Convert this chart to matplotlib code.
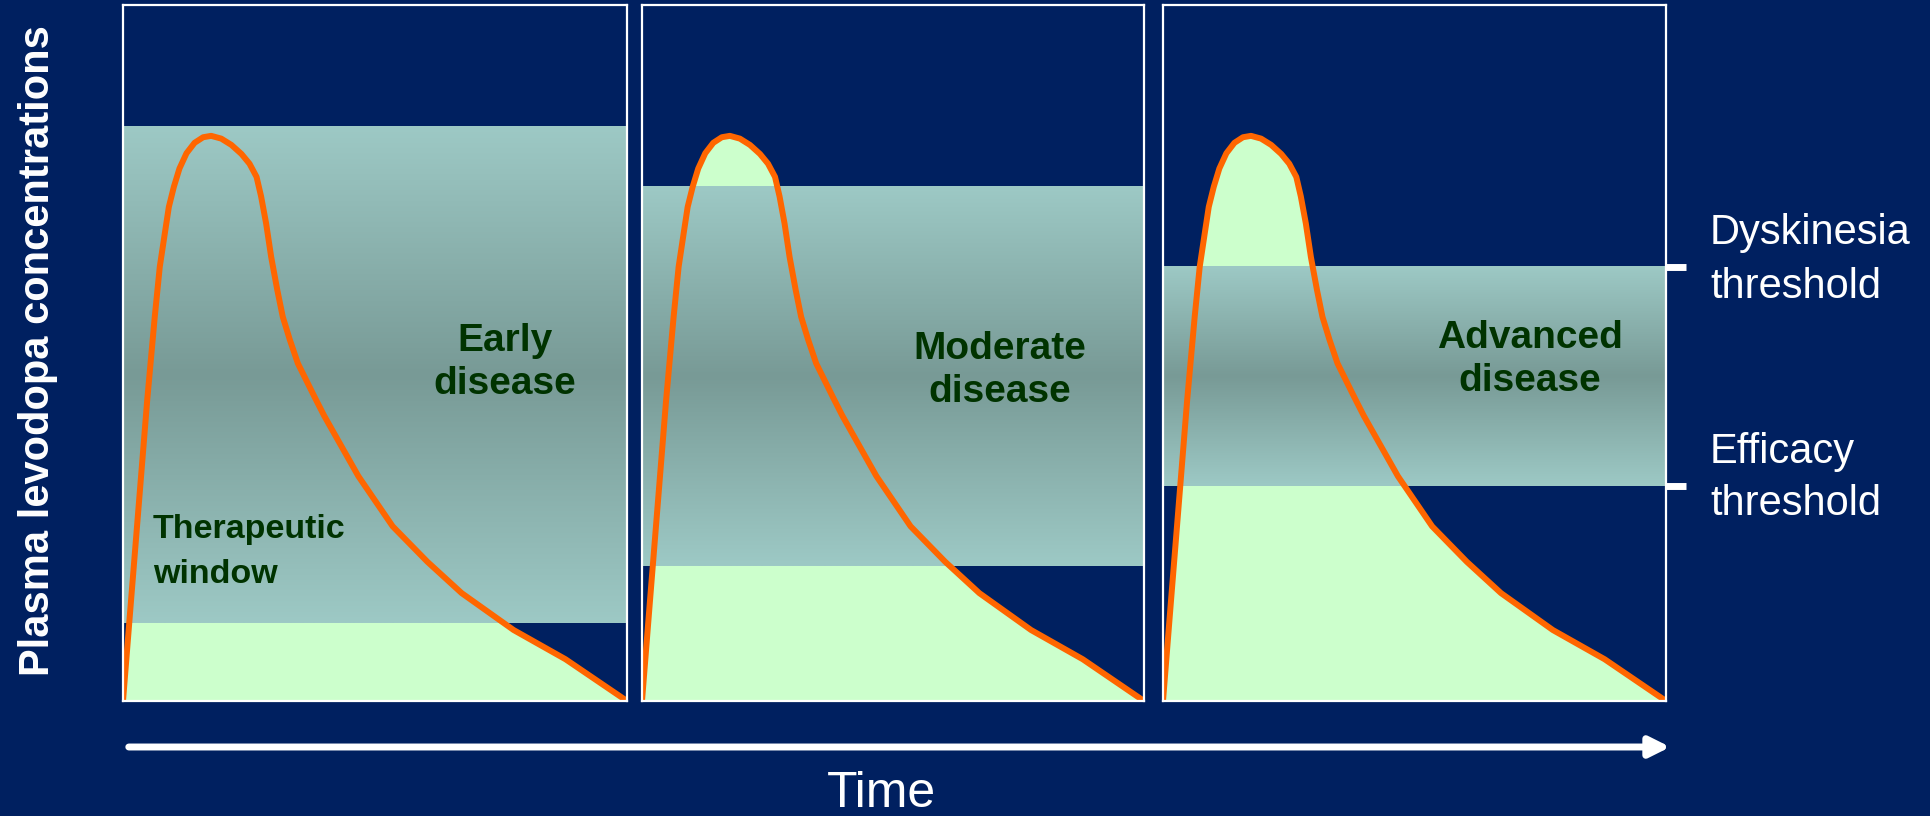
import numpy as np
import matplotlib
matplotlib.use("Agg")
import matplotlib.pyplot as plt
from matplotlib.patches import FancyArrowPatch
from matplotlib.transforms import blended_transform_factory

# ── 数据 ──
stages = ["Early\ndisease", "Moderate\ndisease", "Advanced\ndisease"]
# 阈值（占纵轴的百分比）
efficacy_threshold = [11.2, 19.4, 30.9]
dyskinesia_threshold = [82.5, 73.9, 62.4]
# 单次给药后的血药浓度曲线（三个阶段相同）
time_frac = [0.0, 0.016, 0.048, 0.063, 0.073, 0.083, 0.091, 0.101, 0.112, 0.126,
             0.142, 0.159, 0.175, 0.195, 0.215, 0.235, 0.251, 0.265, 0.274, 0.284,
             0.294, 0.306, 0.317, 0.331, 0.347, 0.380, 0.399, 0.467, 0.535, 0.604,
             0.672, 0.775, 0.878, 1.0]
conc = [0.0, 14.5, 43.2, 55.2, 62.4, 67.2, 71.0, 73.9, 76.5, 78.7,
        80.2, 81.0, 81.2, 80.8, 79.9, 78.6, 77.2, 75.3, 72.5, 68.6,
        63.8, 59.1, 55.2, 51.9, 48.5, 43.7, 41.0, 32.3, 25.1, 20.0,
        15.5, 10.2, 6.0, 0.0]

# ── 样式 ──
NAVY = "#002060"
GREEN_FILL = "#CCFFCC"
ORANGE = "#FF6600"
TEXT_GREEN = "#003300"
BAND_LIGHT = np.array([157, 201, 197]) / 255
BAND_DARK = np.array([120, 154, 150]) / 255

plt.rcParams["font.family"] = ["Liberation Sans", "DejaVu Sans"]

# ── 版面（像素） ──
W, H = 1931, 816
panel_left = [123, 642, 1163]
panel_width = [504, 502, 503]
panel_top, panel_bottom = 5, 701
stage_label_pos = [(505, 323), (1000, 331), (1530, 320)]


def fx(x):
    return x / W


def fy(y):
    return 1 - y / H


fig = plt.figure(figsize=(W / 100, H / 100), dpi=100, facecolor=NAVY)

# 渐变色带：上下浅、中间深
u = np.linspace(0, 1, 256)
t = np.abs(2 * u - 1)[:, None]
grad = (BAND_DARK + (BAND_LIGHT - BAND_DARK) * t)[:, None, :]

axes = []
for i in range(3):
    ax = fig.add_axes([fx(panel_left[i]), fy(panel_bottom), panel_width[i] / W,
                       (panel_bottom - panel_top) / H])
    ax.set_facecolor(NAVY)
    ax.fill_between(time_frac, 0, conc, color=GREEN_FILL, lw=0, zorder=1)
    ax.imshow(grad, extent=[0, 1, efficacy_threshold[i], dyskinesia_threshold[i]],
              origin="lower", aspect="auto", interpolation="bilinear", zorder=2)
    ax.plot(time_frac, conc, color=ORANGE, lw=4.3, solid_capstyle="round",
            solid_joinstyle="round", zorder=3)
    ax.set_xlim(0, 1)
    ax.set_ylim(0, 100)
    ax.set_xticks([])
    ax.set_yticks([])
    for s in ax.spines.values():
        s.set_color("white")
        s.set_linewidth(1.6)
        s.set_zorder(5)
    axes.append(ax)

    lx, ly = stage_label_pos[i]
    fig.text(fx(lx), fy(ly), stages[i], ha="center", va="top", fontsize=28,
             fontweight="bold", color=TEXT_GREEN, linespacing=1.25, zorder=6)

fig.text(fx(153), fy(514), "Therapeutic\nwindow", ha="left", va="top", fontsize=24.5,
         fontweight="bold", color=TEXT_GREEN, linespacing=1.6, zorder=6)

# ── 阈值刻度 ──
ax3 = axes[2]
trans = blended_transform_factory(ax3.transAxes, ax3.transData)
for yv in (dyskinesia_threshold[2], efficacy_threshold[2]):
    ax3.plot([1.0, 1.04], [yv, yv], transform=trans, clip_on=False,
             color="white", lw=5, solid_capstyle="butt", zorder=6)

fig.text(fx(1710), fy(213), "Dyskinesia\nthreshold", ha="left", va="top",
         fontsize=30, color="white", linespacing=1.44)
fig.text(fx(1710), fy(432), "Efficacy\nthreshold", ha="left", va="top",
         fontsize=30, color="white", linespacing=1.38)

# ── 坐标轴标签与时间箭头 ──
fig.text(fx(38), fy(351), "Plasma levodopa concentrations", rotation=90,
         ha="center", va="center", fontsize=30, fontweight="bold", color="white")

arrow = FancyArrowPatch((fx(126), fy(747)), (fx(1673), fy(747)),
                        transform=fig.transFigure,
                        arrowstyle="-|>,head_length=12,head_width=6",
                        mutation_scale=1, lw=5, color="white")
fig.add_artist(arrow)
fig.text(fx(881), fy(771), "Time", ha="center", va="top", fontsize=36, color="white")

fig.savefig("out.png", dpi=100, facecolor=NAVY)
